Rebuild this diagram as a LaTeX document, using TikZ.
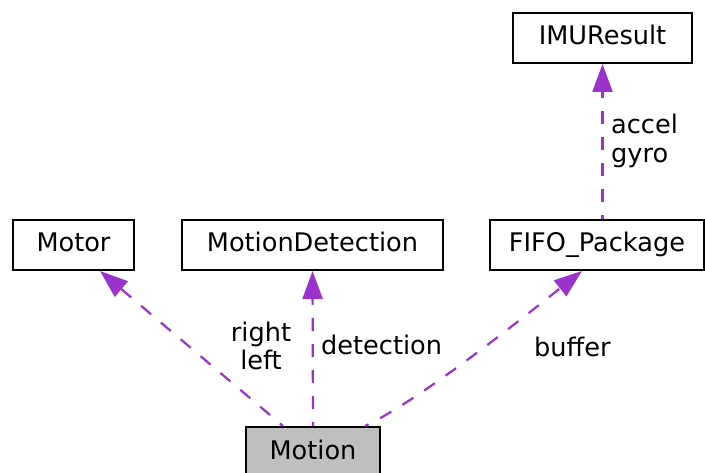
\documentclass[tikz,border=0pt]{standalone}
\usepackage{fontspec}
\setmainfont{DejaVu Sans}
\usetikzlibrary{arrows.meta}
\definecolor{edgecol}{HTML}{9A32CD}
\definecolor{focusfill}{HTML}{BFBFBF}
\tikzset{
  classbox/.style={draw=black, line width=2pt, fill=white, inner sep=0pt,
    minimum height=50pt, text height=19pt, text depth=5pt, anchor=center},
  usage/.style={draw=edgecol, line width=2.2pt, dash pattern=on 13pt off 13pt,
    dash phase=9pt, -{Triangle[length=28pt, width=20pt]}},
  elabel/.style={inner sep=0pt, font=\fontsize{25.6}{28.8}\selectfont},
}
\begin{document}
\begin{tikzpicture}[x=1pt, y=-1pt, font=\fontsize{25.6}{28.8}\selectfont]
  \useasboundingbox (0,0) rectangle (705,473);
  % classes
  \node[classbox, minimum width=179pt] (imu) at (602.5,38) {IMUResult};
  \node[classbox, minimum width=121pt] (motor) at (73.5,245) {Motor};
  \node[classbox, minimum width=261pt] (detect) at (312.5,245) {MotionDetection};
  \node[classbox, minimum width=214pt] (fifo) at (597,245) {FIFO\_Package};
  \node[classbox, minimum width=134pt, fill=focusfill] (motion) at (313,452) {Motion};
  % usage relations
  \draw[usage] ([xshift=-30pt]motion.north) -- ([xshift=26.5pt]motor.south);
  \draw[usage] (motion.north) -- (detect.south);
  \draw[usage] ([xshift=52pt]motion.north) .. controls (420,400) and (520,320) .. ([xshift=-15pt]fifo.south);
  \draw[usage] (imu.south |- fifo.north) -- (imu.south);
  % member names
  \node[elabel, align=center] (lblmotor) at (261,346) {right\\left};
  \node[elabel, anchor=base west] (lbldetect) at (321,355) {detection};
  \node[elabel, anchor=base west] (lblfifo) at (534,356) {buffer};
  \node[elabel, align=left, anchor=west] (lblimu) at (611,141) {accel\\gyro};
\end{tikzpicture}
\end{document}
